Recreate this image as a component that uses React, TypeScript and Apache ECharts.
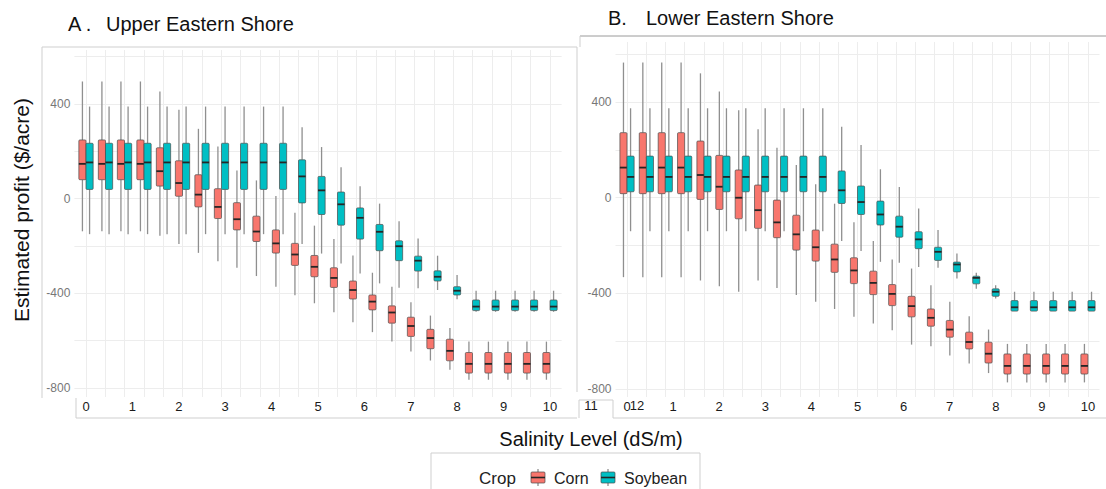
import React, { useEffect, useRef } from "react";
import * as echarts from "echarts";

// Salinity levels (dS/m) of the 25 box groups
const SALINITY = [0, 0.42, 0.83, 1.25, 1.67, 2.08, 2.5, 2.92, 3.33, 3.75, 4.17, 4.58, 5, 5.42, 5.83, 6.25, 6.67, 7.08, 7.5, 7.92, 8.33, 8.75, 9.17, 9.58, 10];
const X_TICKS = [0, 1, 2, 3, 4, 5, 6, 7, 8, 9, 10];
const Y_LABELS = [-800, -400, 0, 400];
const Y_GRID = [-800, -600, -400, -200, 0, 200, 400, 600];

// [lower whisker, Q1, median, Q3, upper whisker]  ($/acre)
const upperCorn = [
  [-138, 80, 147, 248, 495], [-138, 80, 147, 248, 495], [-138, 80, 147, 248, 495], [-138, 80, 147, 248, 495],
  [-157, 53, 116, 215, 453], [-192, 10, 66, 160, 376], [-229, -35, 17, 101, 295], [-264, -84, -35, 42, 220],
  [-292, -132, -87, -17, 119], [-327, -181, -139, -74, 77], [-372, -230, -189, -132, 11], [-408, -282, -236, -189, -60],
  [-442, -330, -288, -240, -114], [-480, -375, -335, -292, -171], [-522, -424, -386, -348, -240], [-564, -470, -435, -407, -313],
  [-604, -526, -481, -453, -372], [-646, -582, -538, -501, -438], [-684, -634, -589, -552, -494], [-723, -685, -643, -594, -547],
  [-765, -737, -698, -650, -604], [-765, -737, -698, -650, -604], [-765, -737, -698, -650, -604], [-765, -737, -698, -650, -604],
  [-765, -737, -698, -650, -604],
];
const upperSoy = [
  [-150, 39, 153, 234, 389], [-150, 39, 153, 234, 389], [-150, 39, 153, 234, 389], [-150, 39, 153, 234, 389],
  [-150, 39, 153, 234, 389], [-150, 39, 153, 234, 389], [-150, 39, 153, 234, 389], [-150, 39, 153, 234, 389],
  [-150, 39, 153, 234, 389], [-150, 39, 153, 234, 389], [-150, 39, 153, 234, 389], [-192, -18, 94, 164, 302],
  [-232, -67, 35, 94, 218], [-274, -112, -24, 28, 133], [-316, -171, -81, -39, 52], [-358, -220, -140, -109, -21],
  [-376, -262, -201, -178, -95], [-379, -306, -262, -243, -168], [-386, -348, -330, -305, -241], [-425, -407, -389, -372, -323],
  [-478, -473, -456, -428, -389], [-478, -473, -456, -428, -389], [-478, -473, -456, -428, -389], [-478, -473, -456, -428, -389],
  [-478, -473, -456, -428, -389],
];
const lowerCorn = [
  [-332, 17, 126, 272, 565], [-332, 17, 126, 272, 565], [-332, 17, 126, 272, 565], [-332, 17, 126, 272, 565],
  [-346, -7, 95, 237, 520], [-370, -49, 46, 177, 444], [-393, -88, 0, 116, 366], [-346, -128, -52, 53, 286],
  [-377, -167, -103, -10, 209], [-407, -219, -153, -73, 137], [-435, -265, -207, -135, 56], [-465, -312, -258, -194, -25],
  [-498, -359, -304, -251, -102], [-526, -405, -356, -307, -181], [-554, -451, -402, -363, -258], [-614, -498, -453, -412, -296],
  [-621, -537, -502, -465, -366], [-660, -583, -551, -513, -435], [-693, -632, -603, -562, -495], [-733, -691, -652, -604, -551],
  [-772, -737, -703, -653, -611], [-772, -737, -703, -653, -611], [-772, -737, -703, -653, -611], [-772, -737, -703, -653, -611],
  [-772, -737, -703, -653, -611],
];
const lowerSoy = [
  [-140, 25, 87, 174, 374], [-140, 25, 87, 174, 374], [-140, 25, 87, 174, 374], [-140, 25, 87, 174, 374],
  [-140, 25, 87, 174, 374], [-140, 25, 87, 174, 374], [-140, 25, 87, 174, 374], [-140, 25, 87, 174, 374],
  [-140, 25, 87, 174, 374], [-140, 25, 87, 174, 374], [-140, 25, 87, 174, 374], [-181, -24, 31, 112, 297],
  [-223, -70, -18, 49, 220], [-268, -114, -70, -14, 119], [-272, -165, -121, -77, 45], [-290, -213, -174, -142, -45],
  [-293, -262, -226, -207, -135], [-338, -310, -279, -269, -233], [-380, -360, -335, -328, -314], [-421, -412, -393, -381, -366],
  [-474, -474, -458, -430, -393], [-474, -474, -458, -430, -393], [-474, -474, -458, -430, -393], [-474, -474, -458, -430, -393],
  [-474, -474, -458, -430, -393],
];

const CORN_COLOR = "#F8766D";
const SOY_COLOR = "#00BFC4";
const FONT = "'Liberation Sans', Arial, Helvetica, sans-serif";
const GROUP_STEP = 10 / 24;

function toRows(stats: number[][]) {
  return stats.map((s, i) => [SALINITY[i], s[0], s[1], s[2], s[3], s[4]]);
}

function makeRender(color: string, side: number) {
  return (params: any, api: any) => {
    const x = api.value(0);
    const band = api.size([GROUP_STEP, 0])[0];
    const pLo = api.coord([x, api.value(1)]);
    const pQ1 = api.coord([x, api.value(2)]);
    const pMed = api.coord([x, api.value(3)]);
    const pQ3 = api.coord([x, api.value(4)]);
    const pHi = api.coord([x, api.value(5)]);
    const cx = pLo[0] + side * band * 0.185;
    const w = band * 0.37;
    return {
      type: "group",
      children: [
        { type: "line", shape: { x1: cx, y1: pHi[1], x2: cx, y2: pQ3[1] }, style: { stroke: "#8f8f8f", lineWidth: 1.3 } },
        { type: "line", shape: { x1: cx, y1: pQ1[1], x2: cx, y2: pLo[1] }, style: { stroke: "#8f8f8f", lineWidth: 1.3 } },
        {
          type: "rect",
          shape: { x: cx - w / 2, y: pQ3[1], width: w, height: Math.max(pQ1[1] - pQ3[1], 1), r: 1 },
          style: { fill: color, stroke: "#4a4a4a", lineWidth: 0.7 },
        },
        { type: "line", shape: { x1: cx - w / 2, y1: pMed[1], x2: cx + w / 2, y2: pMed[1] }, style: { stroke: "#262626", lineWidth: 1.8 } },
      ],
    };
  };
}

function xAxisFor(gridIndex: number) {
  return {
    type: "value",
    gridIndex,
    min: -0.25,
    max: 10.25,
    axisLine: { show: false },
    axisTick: { show: false, customValues: SALINITY },
    axisLabel: { customValues: X_TICKS, color: "#1a1a1a", fontSize: 13, margin: 3, fontFamily: FONT },
    splitLine: { show: true, lineStyle: { color: "#ededed", width: 1 } },
  };
}

function yAxisFor(gridIndex: number, min: number, max: number) {
  return {
    type: "value",
    gridIndex,
    min,
    max,
    axisLine: { show: false },
    axisTick: { show: false, customValues: Y_GRID },
    axisLabel: { customValues: Y_LABELS, color: "#777777", fontSize: 12, margin: 4, fontFamily: FONT },
    splitLine: { show: true, lineStyle: { color: "#ededed", width: 1 } },
  };
}

function seriesFor(name: string, stats: number[][], color: string, side: number, idx: number) {
  return {
    type: "custom",
    name,
    xAxisIndex: idx,
    yAxisIndex: idx,
    data: toRows(stats),
    encode: { x: 0, y: [1, 2, 3, 4, 5] },
    renderItem: makeRender(color, side),
  };
}

function legendKey(x: number, color: string) {
  return {
    type: "group",
    children: [
      { type: "line", shape: { x1: x + 8, y1: 469, x2: x + 8, y2: 486 }, style: { stroke: "#8f8f8f", lineWidth: 1.3 } },
      { type: "rect", shape: { x: x + 1, y: 472, width: 14, height: 11, r: 1 }, style: { fill: color, stroke: "#4a4a4a", lineWidth: 0.7 } },
      { type: "line", shape: { x1: x + 1, y1: 477.5, x2: x + 15, y2: 477.5 }, style: { stroke: "#262626", lineWidth: 1.6 } },
    ],
  };
}

export default function App() {
  const ref = useRef<HTMLDivElement>(null);
  useEffect(() => {
    if (!ref.current) return;
    const chart = echarts.init(ref.current, null, { renderer: "svg" });
    const frame = "#cfcfcf";
    chart.setOption({
      animation: false,
      backgroundColor: "#ffffff",
      grid: [
        { left: 74.4, top: 50, width: 487.2, height: 347 },
        { left: 615.5, top: 42, width: 484, height: 355 },
      ],
      xAxis: [xAxisFor(0), xAxisFor(1)],
      yAxis: [yAxisFor(0, -838, 628), yAxisFor(1, -833, 651)],
      series: [
        seriesFor("Corn", upperCorn, CORN_COLOR, -1, 0),
        seriesFor("Soybean", upperSoy, SOY_COLOR, 1, 0),
        seriesFor("Corn", lowerCorn, CORN_COLOR, -1, 1),
        seriesFor("Soybean", lowerSoy, SOY_COLOR, 1, 1),
      ],
      graphic: [
        // panel frames
        { type: "polyline", shape: { points: [[42, 398], [42, 47], [577, 47], [577, 392]] }, style: { stroke: frame, fill: "none", lineWidth: 1 }, z: -1 },
        { type: "polyline", shape: { points: [[76, 398], [76, 418], [577, 418]] }, style: { stroke: frame, fill: "none", lineWidth: 1 } },
        { type: "polyline", shape: { points: [[579, 418], [579, 400], [613, 400], [613, 418]] }, style: { stroke: frame, fill: "none", lineWidth: 1 } },
        { type: "line", shape: { x1: 613, y1: 418, x2: 1106, y2: 418 }, style: { stroke: frame, lineWidth: 1 } },
        { type: "line", shape: { x1: 580, y1: 36, x2: 1106, y2: 36 }, style: { stroke: "#9a9a9a", lineWidth: 1 } },
        { type: "line", shape: { x1: 580, y1: 36, x2: 580, y2: 47 }, style: { stroke: frame, lineWidth: 1 } },
        // stray tick labels of the pasted axis strip
        { type: "text", x: 591, y: 405, style: { text: "11", fill: "#1a1a1a", font: `13px ${FONT}`, align: "center", verticalAlign: "middle" } },
        { type: "text", x: 637, y: 405, style: { text: "12", fill: "#1a1a1a", font: `13px ${FONT}`, align: "center", verticalAlign: "middle" } },
        // panel titles
        { type: "text", x: 68, y: 24, style: { text: "A .", fill: "#111", font: `20px ${FONT}`, verticalAlign: "middle" } },
        { type: "text", x: 106, y: 24, style: { text: "Upper Eastern Shore", fill: "#111", font: `20px ${FONT}`, verticalAlign: "middle" } },
        { type: "text", x: 608, y: 18, style: { text: "B.", fill: "#111", font: `20px ${FONT}`, verticalAlign: "middle" } },
        { type: "text", x: 646, y: 18, style: { text: "Lower Eastern Shore", fill: "#111", font: `20px ${FONT}`, verticalAlign: "middle" } },
        // axis titles
        { type: "text", x: 21, y: 210, rotation: Math.PI / 2, style: { text: "Estimated profit ($/acre)", fill: "#111", font: `21px ${FONT}`, align: "center", verticalAlign: "middle" } },
        { type: "text", x: 591, y: 439, style: { text: "Salinity Level (dS/m)", fill: "#111", font: `20px ${FONT}`, align: "center", verticalAlign: "middle" } },
        // legend
        { type: "rect", shape: { x: 431, y: 453, width: 269, height: 40 }, style: { fill: "none", stroke: frame, lineWidth: 1 } },
        { type: "text", x: 479, y: 478, style: { text: "Crop", fill: "#222", font: `17px ${FONT}`, verticalAlign: "middle" } },
        legendKey(530, CORN_COLOR),
        { type: "text", x: 554, y: 478, style: { text: "Corn", fill: "#222", font: `16px ${FONT}`, verticalAlign: "middle" } },
        legendKey(600, SOY_COLOR),
        { type: "text", x: 624, y: 478, style: { text: "Soybean", fill: "#222", font: `16px ${FONT}`, verticalAlign: "middle" } },
      ],
    });
    return () => chart.dispose();
  }, []);
  return <div ref={ref} style={{ position: "fixed", left: 0, top: 0, width: 1106, height: 489 }} />;
}
